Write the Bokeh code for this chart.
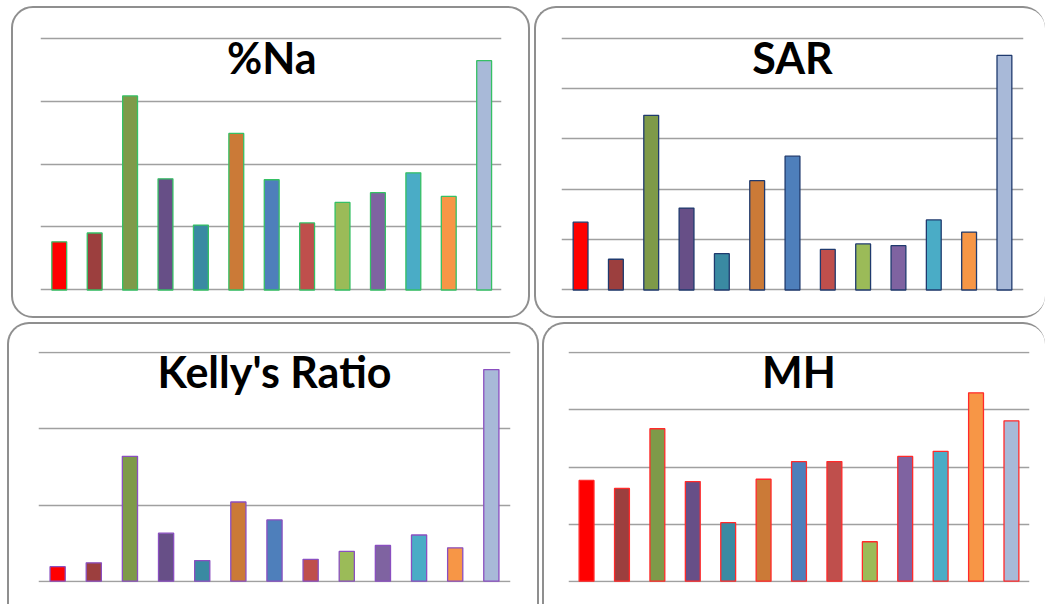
from bokeh.plotting import figure
from bokeh.layouts import row, column, Spacer
from bokeh.models import Range1d, FixedTicker, Label, ColumnDataSource
from bokeh.embed import file_html
from bokeh.resources import INLINE

# ---- data ----
samples = list(range(1, 14))
bar_colors = ["#FF0000", "#9C3F3E", "#7E9A49", "#674F87", "#3A8AA2", "#CB7A37",
              "#4E7FBB", "#BF4F4C", "#9BBB58", "#7F63A1", "#4AACC6", "#F79646", "#A8B9D8"]

na_pct = [15.3, 18.1, 61.6, 35.3, 20.6, 49.7, 35.0, 21.3, 27.8, 30.9, 37.2, 29.7, 72.8]
na_ticks = [0, 20, 40, 60, 80]

sar = [2.69, 1.22, 6.93, 3.25, 1.44, 4.34, 5.31, 1.61, 1.83, 1.76, 2.78, 2.30, 9.31]
sar_ticks = [0, 2, 4, 6, 8, 10]

kelly = [0.19, 0.24, 1.64, 0.63, 0.27, 1.04, 0.805, 0.286, 0.39, 0.468, 0.606, 0.438, 2.78]
kelly_ticks = [0, 1, 2, 3]

mh = [35.3, 32.5, 53.4, 34.9, 20.5, 35.7, 41.9, 41.9, 13.8, 43.7, 45.5, 66.0, 56.2]
mh_ticks = [0, 20, 40, 60, 80]

TITLE_FONT = "Lato"


def panel(title, values, ticks, outline, width, height, borders, css, pad_l=0.53, pad_r=0.5):
    left, right, top, bottom = borders
    ymin, ymax = ticks[0], ticks[-1]
    pad = (ymax - ymin) * 0.006
    n = len(values)
    p = figure(width=width, height=height, output_backend="svg", toolbar_location=None,
               x_range=Range1d(-pad_l, n - 1 + pad_r),
               y_range=Range1d(ymin - pad, ymax + pad),
               min_border_left=left, min_border_right=right,
               min_border_top=top, min_border_bottom=bottom)
    p.background_fill_alpha = 0
    p.border_fill_alpha = 0
    p.outline_line_color = None
    p.xaxis.visible = False
    p.yaxis.visible = False
    p.xgrid.visible = False
    p.ygrid.ticker = FixedTicker(ticks=ticks)
    p.ygrid.grid_line_color = "#a0a0a0"
    p.ygrid.grid_line_width = 1.5
    src = ColumnDataSource(dict(x=list(range(n)), top=values, color=bar_colors[:n]))
    p.vbar(x="x", top="top", bottom=ymin, width=0.42, source=src,
           fill_color="color", line_color=outline, line_width=1.3)
    p.add_layout(Label(x=(n - 1) / 2, y=ymax, y_offset=-19, text=title,
                       text_align="center", text_baseline="alphabetic",
                       text_font=TITLE_FONT, text_font_style="bold",
                       text_font_size="43px", text_color="#000000"))
    base = {"border": "2px solid #8f8f8f", "border-radius": "22px",
            "box-sizing": "border-box"}
    base.update(css)
    p.styles = base
    return p


p1 = panel("%Na", na_pct, na_ticks, "#35C064", 519, 312, (27, 31, 28, 29), {},
           pad_l=0.53, pad_r=0.49)
p2 = panel("SAR", sar, sar_ticks, "#1F3A6E", 511, 312, (25, 24, 28, 29),
           {"border-right": "none"}, pad_l=0.54, pad_r=0.54)
p3 = panel("Kelly's Ratio", kelly, kelly_ticks, "#8A4FC0", 532, 282, (29, 31, 27, 24),
           {"border-bottom": "none", "border-bottom-left-radius": "0px",
            "border-bottom-right-radius": "0px"}, pad_l=0.53, pad_r=0.53)
p4 = panel("MH", mh, mh_ticks, "#FF2A2A", 503, 282, (24, 18, 27, 24),
           {"border-bottom": "none", "border-right": "none",
            "border-bottom-left-radius": "0px", "border-bottom-right-radius": "0px"},
           pad_l=0.51, pad_r=0.51)

layout = column(
    Spacer(width=1045, height=6),
    row(Spacer(width=11, height=312), p1, Spacer(width=4, height=312), p2, spacing=0),
    Spacer(width=1045, height=4),
    row(Spacer(width=7, height=282), p3, Spacer(width=3, height=282), p4, spacing=0),
    spacing=0,
)

open("out.html", "w").write(file_html(layout, INLINE))
